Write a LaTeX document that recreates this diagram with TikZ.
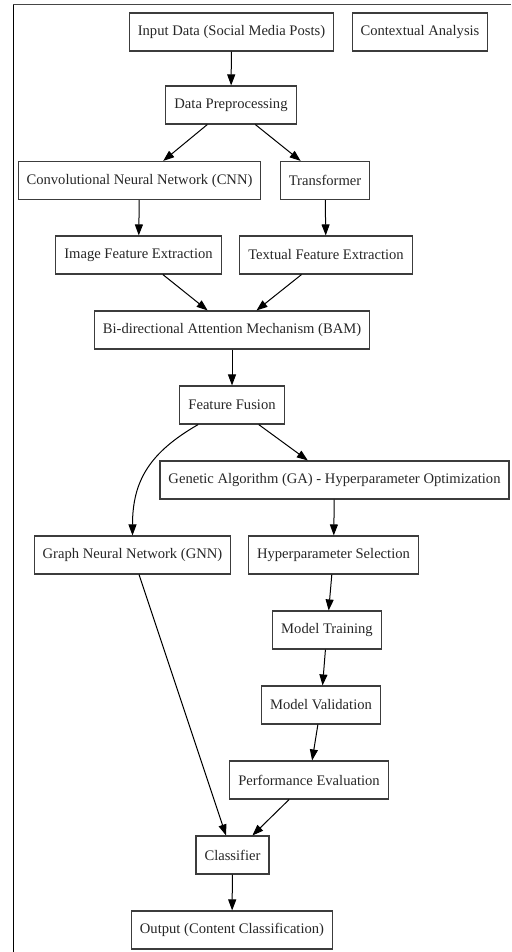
\documentclass[tikz,border=0pt]{standalone}
\usepackage{fontspec}
\setmainfont{Liberation Serif}
\usepackage{tikz}
\usetikzlibrary{arrows.meta,positioning,calc}
\definecolor{boxgray}{RGB}{60,60,60}
\definecolor{framegray}{RGB}{70,70,70}

\tikzset{
  stage/.style={draw=boxgray,line width=1.1pt,rectangle,minimum height=38pt,inner xsep=8.5pt,
    font=\fontsize{14.6}{17}\selectfont,text=black!85},
  flow/.style={-{Triangle[length=11pt,width=8pt]},line width=1pt,black}
}

\begin{document}
\begin{tikzpicture}[x=1pt,y=-1pt]
  \useasboundingbox (0,0) rectangle (511,952);
  % frame of the screenshot
  \draw[framegray,line width=1pt] (13,5) -- (511,5);
  \draw[black,line width=1pt] (13,5) -- (13,952);

  \node[stage] (input) at (231.5,32) {Input Data (Social Media Posts)};
  \node[stage] (context) at (420,32) {Contextual Analysis};
  \node[stage] (prep) at (231,105) {Data Preprocessing};
  \node[stage] (cnn) at (139.5,180.5) {Convolutional Neural Network (CNN)};
  \node[stage] (trans) at (325,180.5) {Transformer};
  \node[stage] (imgfeat) at (138.5,255) {Image Feature Extraction};
  \node[stage] (txtfeat) at (326,255) {Textual Feature Extraction};
  \node[stage] (bam) at (232,330) {Bi-directional Attention Mechanism (BAM)};
  \node[stage] (fusion) at (232,405) {Feature Fusion};
  \node[stage] (ga) at (334.5,480) {Genetic Algorithm (GA) - Hyperparameter Optimization};
  \node[stage] (gnn) at (132.5,555) {Graph Neural Network (GNN)};
  \node[stage] (hpsel) at (333.5,555) {Hyperparameter Selection};
  \node[stage] (train) at (327,630) {Model Training};
  \node[stage] (valid) at (321,705) {Model Validation};
  \node[stage] (perf) at (309,780) {Performance Evaluation};
  \node[stage] (clf) at (232.5,855) {Classifier};
  \node[stage] (output) at (232,930) {Output (Content Classification)};

  % edges
  \draw[flow] (input) -- (prep);
  \draw[flow] (prep) -- (cnn);
  \draw[flow] (prep) -- (trans);
  \draw[flow] (cnn) -- (imgfeat);
  \draw[flow] (trans) -- (txtfeat);
  \draw[flow] (imgfeat) -- (bam);
  \draw[flow] (txtfeat) -- (bam);
  \draw[flow] (bam) -- (fusion);
  \draw[flow] (fusion) -- (ga);
  \draw[flow] (fusion) to[out=-150,in=90,looseness=1.1] (gnn);
  \draw[flow] (ga) -- (hpsel);
  \draw[flow] (hpsel) -- (train);
  \draw[flow] (train) -- (valid);
  \draw[flow] (valid) -- (perf);
  \draw[flow] (perf) -- (clf);
  \draw[flow] (gnn) -- (clf);
  \draw[flow] (clf) -- (output);
\end{tikzpicture}
\end{document}
